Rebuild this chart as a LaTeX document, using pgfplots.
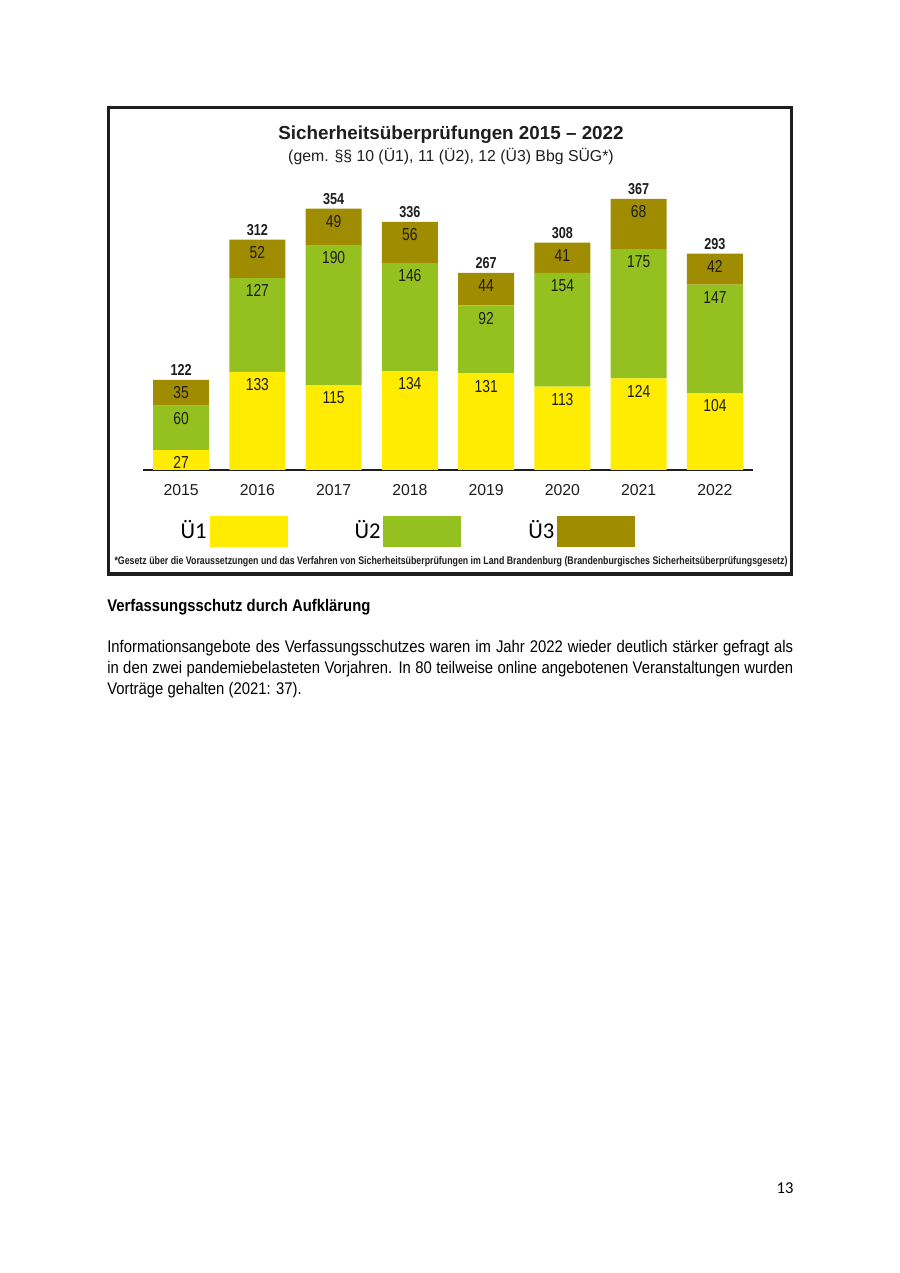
\documentclass[border=0pt]{standalone}
\usepackage{fontspec}
\usepackage{pgfplots}
\usepackage{pgfplotstable}
\pgfplotsset{compat=1.18}
\setmainfont{Liberation Sans}
\newfontfamily\narrow{Liberation Sans}[FakeStretch=0.8]
\newfontfamily\textnarrow{Liberation Sans}[FakeStretch=0.88]
\newfontfamily\calib{Carlito}
\definecolor{ue1}{RGB}{255,236,0}
\definecolor{ue2}{RGB}{148,193,31}
\definecolor{ue3}{RGB}{160,140,0}
\definecolor{ink}{RGB}{30,30,30}

% Sicherheitsueberpruefungen je Jahr (Ü1, Ü2, Ü3, Summe);
% top2 = Oberkante des Ü2-Blocks (Ü1+Ü2)
\pgfplotstableread{
x u1 u2 u3 tot top2
0 27 60 35 122 87
1 133 127 52 312 260
2 115 190 49 354 305
3 134 146 56 336 280
4 131 92 44 267 223
5 113 154 41 308 267
6 124 175 68 367 299
7 104 147 42 293 251
}\sued

\pgfplotsset{
  chartbox/.style={
    at={(94.58bp,531.12bp)}, anchor=south west,
    scale only axis, width=403.5bp, height=195.35bp,
    xmin=-0.5, xmax=7.5, ymin=0, ymax=400,
    /pgf/number format/assume math mode=true,
    point meta=explicit},
}
\tikzset{
  seglabel/.style={anchor=north, inner sep=0pt, yshift=-4.2bp, text=ink,
    font=\narrow\fontsize{11.5}{13}\selectfont},
}

\begin{document}
\begin{tikzpicture}[x=0.66142bp,y=0.66142bp]
% page
\fill[white] (0,0) rectangle (900,1273);
% chart frame
\draw[line width=2bp, ink] (108.5,1165) rectangle (791.5,699);
\node[font=\bfseries\fontsize{12.5}{15}\selectfont, text=ink] at (451,1138) {Sicherheitsüberprüfungen 2015 – 2022};
\node[font=\fontsize{10.5}{13}\selectfont, text=ink] at (451,1116) {(gem. §§ 10 (Ü1), 11 (Ü2), 12 (Ü3) Bbg SÜG*)};

\begin{axis}[chartbox,
    ybar stacked, bar width=0.734,
    axis y line=none, axis x line*=bottom,
    x axis line style={-, line width=1.6bp, ink},
    xtick=data, xticklabels={2015,2016,2017,2018,2019,2020,2021,2022},
    major tick length=0pt,
    xticklabel style={font=\fontsize{10.5}{12}\selectfont, text=ink, anchor=center, yshift=-13bp},
    legend plot pos=right,
    legend style={at={(rel axis cs:0.049,-0.2065)}, anchor=west, draw=none, fill=none,
        legend columns=3, font=\calib\fontsize{15}{18}\selectfont,
        /tikz/every even column/.append style={column sep=42.5bp}},
  ]
  \addlegendimage{legend image code/.code={\fill[ue1] (0bp,-9.9bp) rectangle (50.9bp,9.9bp);}}
  \addlegendimage{legend image code/.code={\fill[ue2] (0bp,-9.9bp) rectangle (50.9bp,9.9bp);}}
  \addlegendimage{legend image code/.code={\fill[ue3] (0bp,-9.9bp) rectangle (50.9bp,9.9bp);}}
  \addplot[fill=ue1, draw=none] table[x=x, y=u1] {\sued};
  \addplot[fill=ue2, draw=none] table[x=x, y=u2] {\sued};
  \addplot[fill=ue3, draw=none] table[x=x, y=u3] {\sued};
  \legend{Ü1,Ü2,Ü3}
\end{axis}

% value labels at the top of each block, totals above the bars
\begin{axis}[chartbox, hide axis]
  \addplot[draw=none, mark=none, nodes near coords, every node near coord/.append style={seglabel}]
    table[x=x, y=u1, meta=u1] {\sued};
  \addplot[draw=none, mark=none, nodes near coords, every node near coord/.append style={seglabel}]
    table[x=x, y=top2, meta=u2] {\sued};
  \addplot[draw=none, mark=none, nodes near coords, every node near coord/.append style={seglabel}]
    table[x=x, y=tot, meta=u3] {\sued};
  \addplot[draw=none, mark=none, nodes near coords,
    every node near coord/.append style={anchor=south, inner sep=0pt, yshift=2.5bp, text=ink,
      font=\narrow\bfseries\fontsize{10.5}{12}\selectfont}]
    table[x=x, y=tot, meta=tot] {\sued};
\end{axis}

\node[font=\narrow\bfseries\fontsize{7.3}{8.5}\selectfont, text=ink] at (451,711)
  {*Gesetz über die Voraussetzungen und das Verfahren von Sicherheitsüberprüfungen im Land Brandenburg (Brandenburgisches Sicherheitsüberprüfungsgesetz)};

% text below the chart
\node[anchor=west, inner sep=0pt, font=\textnarrow\bfseries\fontsize{11.2}{13.9}\selectfont] at (107,666)
  {Verfassungsschutz durch Aufklärung};
\node[anchor=north west, inner sep=0pt, text width=453.7bp, align=justify,
      font=\textnarrow\fontsize{11.2}{13.9}\selectfont] at (107,633)
  {Informationsangebote des Verfassungsschutzes waren im Jahr 2022 wieder deutlich stärker gefragt als\linebreak
   in den zwei pandemiebelasteten Vorjahren. In 80 teilweise online angebotenen Veranstaltungen wurden\linebreak
   Vorträge gehalten (2021: 37).};
\node[font=\calib\fontsize{11}{13}\selectfont] at (785,85) {13};
\end{tikzpicture}
\end{document}
